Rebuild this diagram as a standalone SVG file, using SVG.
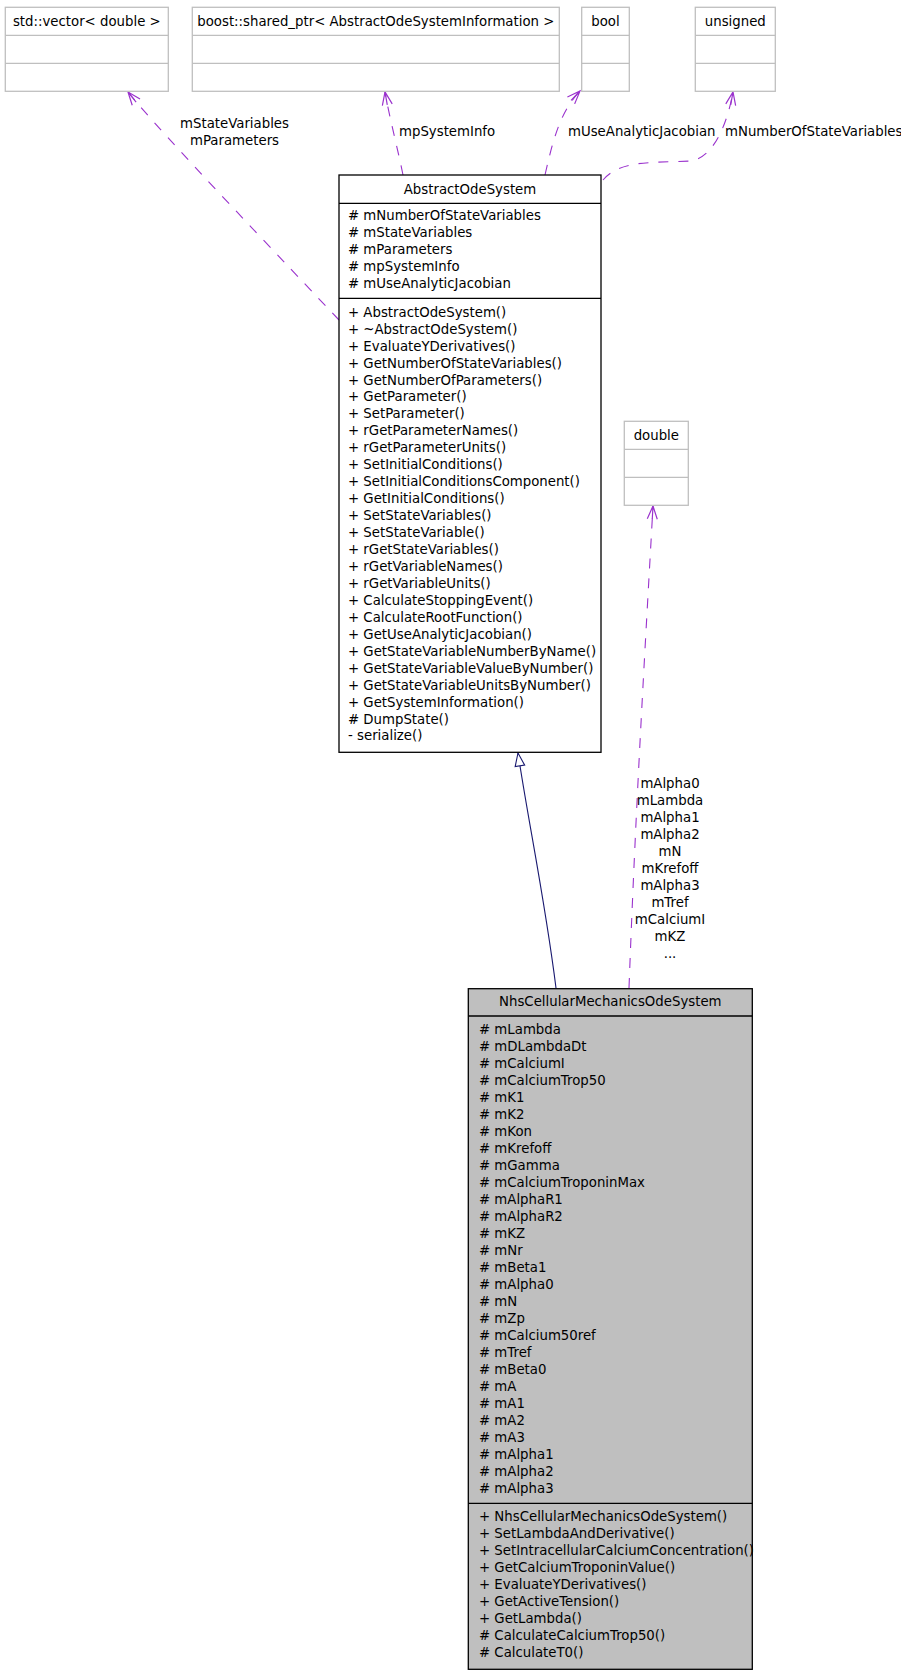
<svg xmlns="http://www.w3.org/2000/svg" width="901" height="1672" viewBox="0 0 901 1672">
<style>
text { font-family: "DejaVu Sans", "Liberation Sans", sans-serif; font-size: 13.3px; fill: #000; }
.c { text-anchor: middle; }
.ext { fill: #fff; stroke: #bfbfbf; stroke-width: 1.3; }
.cls { fill: #fff; stroke: #000; stroke-width: 1.3; }
.main { fill: #bfbfbf; stroke: #000; stroke-width: 1.3; }
.sepg { stroke: #bfbfbf; stroke-width: 1.3; }
.sepb { stroke: #000; stroke-width: 1.3; }
.dep { fill: none; stroke: #9a32cd; stroke-width: 1.1; stroke-dasharray: 10,10; marker-end: url(#vee); }
.inh { fill: none; stroke: #191970; stroke-width: 1.1; marker-end: url(#tri); }
</style>
<defs>
<marker id="vee" markerUnits="userSpaceOnUse" viewBox="-14 -7 16 14" refX="0" refY="0" markerWidth="16" markerHeight="14" orient="auto">
<path d="M-13,-5 L0,0 L-13,5 M-13,0 L0,0" fill="none" stroke="#9a32cd" stroke-width="1.2"/>
</marker>
<marker id="tri" markerUnits="userSpaceOnUse" viewBox="-15 -7 17 14" refX="0" refY="0" markerWidth="17" markerHeight="14" orient="auto">
<path d="M-13,-4.8 L0,0 L-13,4.8 Z" fill="#fff" stroke="#191970" stroke-width="1.1"/>
</marker>
</defs>
<rect width="901" height="1672" fill="#fff"/>

<g id="connectors">
<path class="dep" d="M339,320 C290,268 160,132 128,92"/>
<path class="dep" d="M403,175 C398,150 390,120 385,92"/>
<path class="dep" d="M545,175 C553,140 560,112 580,91"/>
<path class="dep" d="M603,180 C620,160 650,163 690,161 C715,158 728,120 733,92"/>
<path class="dep" d="M629,988 C636,800 645,650 653,506"/>
<path class="inh" d="M556,988 C545,900 528,820 518,753"/>
<text x="234.5" y="127.5" class="c">mStateVariables</text>
<text x="234.5" y="144.5" class="c">mParameters</text>
<text x="399" y="135.5">mpSystemInfo</text>
<text x="568" y="135.5">mUseAnalyticJacobian</text>
<text x="725" y="135.5">mNumberOfStateVariables</text>
<g class="c">
<text x="670" y="788">mAlpha0</text>
<text x="670" y="805">mLambda</text>
<text x="670" y="822">mAlpha1</text>
<text x="670" y="839">mAlpha2</text>
<text x="670" y="856">mN</text>
<text x="670" y="873">mKrefoff</text>
<text x="670" y="890">mAlpha3</text>
<text x="670" y="907">mTref</text>
<text x="670" y="924">mCalciumI</text>
<text x="670" y="941">mKZ</text>
<text x="670" y="958">...</text>
</g>
</g>

<g id="node_vector">
<rect class="ext" x="5.3" y="7.3" width="163" height="84"/>
<line class="sepg" x1="5.3" y1="35.3" x2="168.3" y2="35.3"/>
<line class="sepg" x1="5.3" y1="63.3" x2="168.3" y2="63.3"/>
<text x="86.8" y="26" class="c">std::vector&lt; double &gt;</text>
</g>

<g id="node_shared_ptr">
<rect class="ext" x="192.3" y="7.3" width="367" height="84"/>
<line class="sepg" x1="192.3" y1="35.3" x2="559.3" y2="35.3"/>
<line class="sepg" x1="192.3" y1="63.3" x2="559.3" y2="63.3"/>
<text x="375.8" y="26" class="c">boost::shared_ptr&lt; AbstractOdeSystemInformation &gt;</text>
</g>

<g id="node_bool">
<rect class="ext" x="581.7" y="7.3" width="47.6" height="84"/>
<line class="sepg" x1="581.7" y1="35.3" x2="629.3" y2="35.3"/>
<line class="sepg" x1="581.7" y1="63.3" x2="629.3" y2="63.3"/>
<text x="605.5" y="26" class="c">bool</text>
</g>

<g id="node_unsigned">
<rect class="ext" x="695.3" y="7.3" width="80" height="84"/>
<line class="sepg" x1="695.3" y1="35.3" x2="775.3" y2="35.3"/>
<line class="sepg" x1="695.3" y1="63.3" x2="775.3" y2="63.3"/>
<text x="735.3" y="26" class="c">unsigned</text>
</g>

<g id="node_double">
<rect class="ext" x="624.3" y="421.3" width="64" height="84"/>
<line class="sepg" x1="624.3" y1="449.3" x2="688.3" y2="449.3"/>
<line class="sepg" x1="624.3" y1="477.3" x2="688.3" y2="477.3"/>
<text x="656.3" y="440" class="c">double</text>
</g>

<g id="node_AbstractOdeSystem">
<rect class="cls" x="339" y="175" width="262" height="577.3"/>
<line class="sepb" x1="339" y1="203.3" x2="601" y2="203.3"/>
<line class="sepb" x1="339" y1="298.3" x2="601" y2="298.3"/>
<text x="470" y="193.5" class="c">AbstractOdeSystem</text>
<text x="348" y="219.7"># mNumberOfStateVariables</text>
<text x="348" y="236.7"># mStateVariables</text>
<text x="348" y="253.7"># mParameters</text>
<text x="348" y="270.7"># mpSystemInfo</text>
<text x="348" y="287.7"># mUseAnalyticJacobian</text>
<text x="348" y="316.7">+ AbstractOdeSystem()</text>
<text x="348" y="333.65">+ ~AbstractOdeSystem()</text>
<text x="348" y="350.6">+ EvaluateYDerivatives()</text>
<text x="348" y="367.55">+ GetNumberOfStateVariables()</text>
<text x="348" y="384.5">+ GetNumberOfParameters()</text>
<text x="348" y="401.45">+ GetParameter()</text>
<text x="348" y="418.4">+ SetParameter()</text>
<text x="348" y="435.35">+ rGetParameterNames()</text>
<text x="348" y="452.3">+ rGetParameterUnits()</text>
<text x="348" y="469.25">+ SetInitialConditions()</text>
<text x="348" y="486.2">+ SetInitialConditionsComponent()</text>
<text x="348" y="503.15">+ GetInitialConditions()</text>
<text x="348" y="520.1">+ SetStateVariables()</text>
<text x="348" y="537.05">+ SetStateVariable()</text>
<text x="348" y="554">+ rGetStateVariables()</text>
<text x="348" y="570.95">+ rGetVariableNames()</text>
<text x="348" y="587.9">+ rGetVariableUnits()</text>
<text x="348" y="604.85">+ CalculateStoppingEvent()</text>
<text x="348" y="621.8">+ CalculateRootFunction()</text>
<text x="348" y="638.75">+ GetUseAnalyticJacobian()</text>
<text x="348" y="655.7">+ GetStateVariableNumberByName()</text>
<text x="348" y="672.65">+ GetStateVariableValueByNumber()</text>
<text x="348" y="689.6">+ GetStateVariableUnitsByNumber()</text>
<text x="348" y="706.55">+ GetSystemInformation()</text>
<text x="348" y="723.5"># DumpState()</text>
<text x="348" y="740.45">- serialize()</text>
</g>

<g id="node_NhsCellularMechanicsOdeSystem">
<rect class="main" x="468.3" y="988.7" width="284" height="680.6"/>
<line class="sepb" x1="468.3" y1="1016" x2="752.3" y2="1016"/>
<line class="sepb" x1="468.3" y1="1503.3" x2="752.3" y2="1503.3"/>
<text x="610.3" y="1006.4" class="c">NhsCellularMechanicsOdeSystem</text>
<text x="479" y="1034"># mLambda</text>
<text x="479" y="1051"># mDLambdaDt</text>
<text x="479" y="1068"># mCalciumI</text>
<text x="479" y="1085"># mCalciumTrop50</text>
<text x="479" y="1102"># mK1</text>
<text x="479" y="1119"># mK2</text>
<text x="479" y="1136"># mKon</text>
<text x="479" y="1153"># mKrefoff</text>
<text x="479" y="1170"># mGamma</text>
<text x="479" y="1187"># mCalciumTroponinMax</text>
<text x="479" y="1204"># mAlphaR1</text>
<text x="479" y="1221"># mAlphaR2</text>
<text x="479" y="1238"># mKZ</text>
<text x="479" y="1255"># mNr</text>
<text x="479" y="1272"># mBeta1</text>
<text x="479" y="1289"># mAlpha0</text>
<text x="479" y="1306"># mN</text>
<text x="479" y="1323"># mZp</text>
<text x="479" y="1340"># mCalcium50ref</text>
<text x="479" y="1357"># mTref</text>
<text x="479" y="1374"># mBeta0</text>
<text x="479" y="1391"># mA</text>
<text x="479" y="1408"># mA1</text>
<text x="479" y="1425"># mA2</text>
<text x="479" y="1442"># mA3</text>
<text x="479" y="1459"># mAlpha1</text>
<text x="479" y="1476"># mAlpha2</text>
<text x="479" y="1493"># mAlpha3</text>
<text x="479" y="1521.4">+ NhsCellularMechanicsOdeSystem()</text>
<text x="479" y="1538.4">+ SetLambdaAndDerivative()</text>
<text x="479" y="1555.4">+ SetIntracellularCalciumConcentration()</text>
<text x="479" y="1572.4">+ GetCalciumTroponinValue()</text>
<text x="479" y="1589.4">+ EvaluateYDerivatives()</text>
<text x="479" y="1606.4">+ GetActiveTension()</text>
<text x="479" y="1623.4">+ GetLambda()</text>
<text x="479" y="1640.4"># CalculateCalciumTrop50()</text>
<text x="479" y="1657.4"># CalculateT0()</text>
</g>
</svg>
